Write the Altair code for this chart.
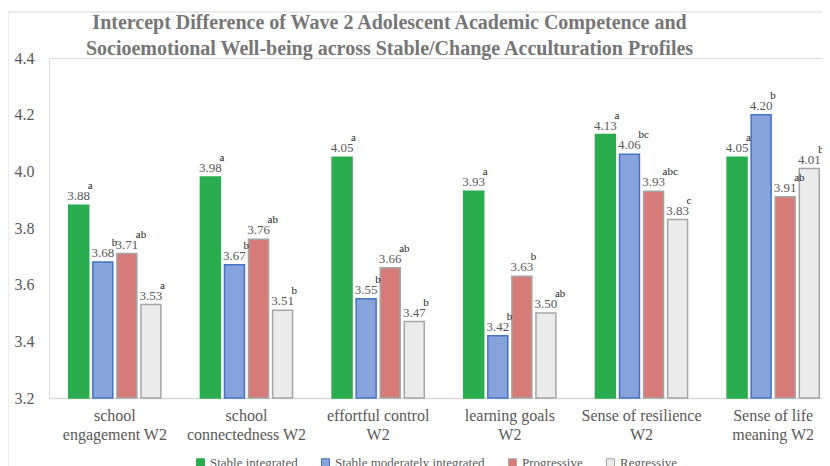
import altair as alt
import pandas as pd

categories = ["school engagement W2", "school connectedness  W2", "effortful control W2",
              "learning goals W2", "Sense of resilience W2", "Sense of life meaning W2"]
label_lines = [["school", "engagement W2"], ["school", "connectedness  W2"], ["effortful control", "W2"],
               ["learning goals", "W2"], ["Sense of resilience", "W2"], ["Sense of life", "meaning W2"]]
profiles = ["Stable integrated", "Stable moderately integrated", "Progressive", "Regressive"]

stable_integrated = [3.88, 3.98, 4.05, 3.93, 4.13, 4.05]
stable_moderate = [3.68, 3.67, 3.55, 3.42, 4.06, 4.20]
progressive = [3.71, 3.76, 3.66, 3.63, 3.93, 3.91]
regressive = [3.53, 3.51, 3.47, 3.50, 3.83, 4.01]

letters_si = ["a", "a", "a", "a", "a", "a"]
letters_sm = ["b", "b", "b", "b", "bc", "b"]
letters_pr = ["ab", "ab", "ab", "b", "abc", "ab"]
letters_rg = ["a", "b", "b", "ab", "c", "b"]

y_ticks = [3.2, 3.4, 3.6, 3.8, 4.0, 4.2, 4.4]

title_lines = ["Intercept Difference of Wave 2 Adolescent Academic Competence and",
               "Socioemotional Well-being across Stable/Change Acculturation Profiles"]

series = [stable_integrated, stable_moderate, progressive, regressive]
letters = [letters_si, letters_sm, letters_pr, letters_rg]
rows = []
for p, vals, lets in zip(profiles, series, letters):
    for c, v, l in zip(categories, vals, lets):
        rows.append({"category": c, "profile": p, "value": v, "letter": l})
df = pd.DataFrame(rows)

# multi-line axis labels
expr = "''"
for c, lines in reversed(list(zip(categories, label_lines))):
    arr = "[" + ",".join("'" + s + "'" for s in lines) + "]"
    expr = f"datum.label == '{c}' ? {arr} : ({expr})"

FONT = "Liberation Serif"
GRAY = "#595959"
W, H = 773, 340
X_RANGE = 790  # the original chart is cropped at the right edge

fill_colors = ["#2aad4f", "#86a3db", "#d77b79", "#ebebeb"]
stroke_colors = ["#2aad4f", "#4472c4", "#a5a5a5", "#a5a5a5"]

x_enc = alt.X("category:N", sort=categories,
              scale=alt.Scale(paddingInner=0.3, paddingOuter=0.15, range=[0, X_RANGE]),
              axis=alt.Axis(title=None, labelAngle=0, labelExpr=expr, labelFont=FONT,
                            labelFontSize=16, labelColor=GRAY, labelLineHeight=19.5,
                            labelPadding=9, labelBaseline="top", ticks=False,
                            domainColor="#d9d9d9", domainWidth=1.5))
xo_enc = alt.XOffset("profile:N", sort=profiles,
                     scale=alt.Scale(paddingInner=0.17, paddingOuter=0))
y_enc = alt.Y("value:Q", scale=alt.Scale(domain=[3.2, 4.4], nice=False, zero=False),
              axis=alt.Axis(values=y_ticks, format=".1f", title=None, grid=False, domain=False,
                            ticks=False, labelPadding=15, labelFont=FONT, labelFontSize=16,
                            labelColor=GRAY))

legend = alt.Legend(title=None, orient="none", direction="horizontal",
                    legendX=145, legendY=398, symbolType="square",
                    symbolSize=64, symbolStrokeWidth=1, labelFont=FONT,
                    labelFontSize=13, labelColor=GRAY, columnPadding=21, labelOffset=3)

base = alt.Chart(df)

bars = base.mark_bar(strokeWidth=1.5).encode(
    x=x_enc, xOffset=xo_enc, y=y_enc, y2=alt.datum(3.2),
    fill=alt.Fill("profile:N", sort=profiles,
                  scale=alt.Scale(domain=profiles, range=fill_colors), legend=legend),
    stroke=alt.Stroke("profile:N", sort=profiles,
                      scale=alt.Scale(domain=profiles, range=stroke_colors), legend=legend),
)

values_text = base.mark_text(font=FONT, fontSize=13, color=GRAY, baseline="alphabetic", dy=-5).encode(
    x=x_enc, xOffset=xo_enc, y=y_enc, text=alt.Text("value:Q", format=".2f"))

letter_text = base.mark_text(font=FONT, fontSize=11, color="#262626", baseline="alphabetic",
                             align="left", dx=9, dy=-16).encode(
    x=x_enc, xOffset=xo_enc, y=y_enc, text="letter:N")

frame = alt.Chart(alt.Data(values=[{"f": 1}])).mark_rect(
    fill="#ffffff", fillOpacity=0, stroke="#d9d9d9", strokeWidth=1).encode(
    x=alt.value(-41), x2=alt.value(W + 60), y=alt.value(-46), y2=alt.value(H + 140))

chart = alt.layer(frame, bars, values_text, letter_text).properties(
    width=W, height=H,
    autosize=alt.AutoSizeParams(type="none"),
    padding={"left": 41, "top": 50, "right": 0, "bottom": 68},
    title=alt.TitleParams(text=title_lines, font=FONT, fontSize=20, fontWeight="bold",
                          color="#767676", anchor="middle", frame="group", dx=-46, dy=53,
                          lineHeight=26, offset=6),
).configure_view(strokeWidth=0).configure(background="white", font=FONT).configure_legend(
    labelFont=FONT).configure_text(font=FONT)

chart.save("out.html", embed_options={"renderer": "svg", "actions": False})
